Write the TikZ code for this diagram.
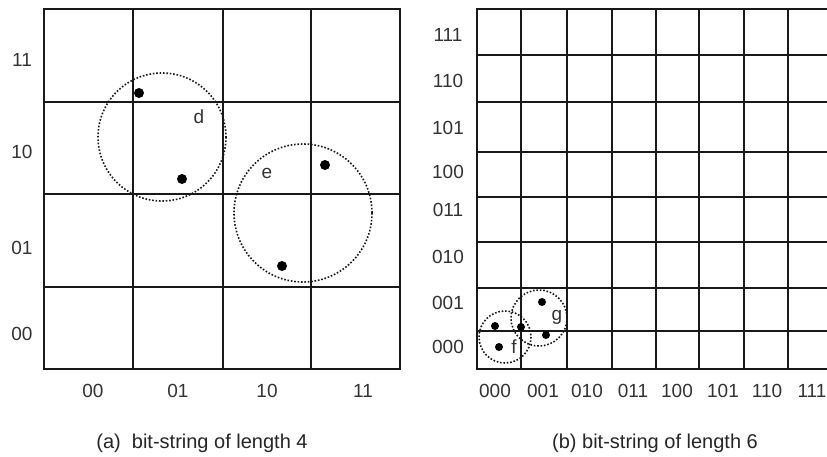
\documentclass[tikz,border=0pt]{standalone}
\usepackage{fontspec}
\setmainfont{Liberation Sans}
\begin{document}
\begin{tikzpicture}[x=1pt,y=-1pt,
  gridline/.style={line width=2pt,black!90,line cap=rect},
  ring/.style={line width=1.6pt,black!90,dash pattern=on 1.6pt off 1.8pt},
  bigdot/.style={circle,fill=black,inner sep=0pt,minimum size=10pt},
  smalldot/.style={circle,fill=black,inner sep=0pt,minimum size=8pt},
  lab/.style={inner sep=0pt,text=black!80,font=\fontsize{19}{21}\selectfont},
  caption/.style={inner sep=0pt,text=black!85,font=\fontsize{20}{22}\selectfont}]
\clip (0,0) rectangle (827,456);
\fill[white] (0,0) rectangle (827,456);
% left grid, 2 bits per axis
\foreach \x in {44,133,223,311,400} \draw[gridline] (\x,9) -- (\x,369);
\foreach \y in {9,102,194,287,369} \draw[gridline] (44,\y) -- (400,\y);
\foreach \t/\y in {11/60,10/152,01/248,00/334}
  \node[lab] (rowa\t) at (22,\y) {\t};
\foreach \t/\x in {00/93,01/178,10/267,11/363}
  \node[lab] (cola\t) at (\x,391) {\t};
% right grid, 3 bits per axis
\foreach \x in {477,521,567,612,656,699,744,788,832} \draw[gridline] (\x,9) -- (\x,369);
\foreach \y in {9,55,102,152,197,242,288,331,369} \draw[gridline] (477,\y) -- (832,\y);
\foreach \t/\y in {111/35,110/81,101/128,100/172,011/210,010/257,001/303,000/347}
  \node[lab] (rowb\t) at (448,\y) {\t};
\foreach \t/\x in {000/495,001/543,010/587,011/633,100/677,101/723,110/767,111/812}
  \node[lab] (colb\t) at (\x,391) {\t};
% neighbourhoods
\draw[ring] (162,137) circle[radius=64];
\draw[ring] (303,213) circle[radius=69];
\draw[ring] (505,337) circle[radius=26];
\draw[ring] (539,318) circle[radius=28];
\node[bigdot] (d1) at (139,93) {};
\node[bigdot] (d2) at (182,179) {};
\node[bigdot] (e1) at (325,165) {};
\node[bigdot] (e2) at (282,266) {};
\node[smalldot] (f1) at (495,326) {};
\node[smalldot] (f2) at (499,347) {};
\node[smalldot] (fg) at (521,327) {};
\node[smalldot] (g1) at (542,302) {};
\node[smalldot] (g2) at (546,335) {};
\node[lab] (dlab) at (199,117) {d};
\node[lab] (elab) at (267,173) {e};
\node[lab] (flab) at (514,347) {f};
\node[lab] (glab) at (557,317) {g};
% captions
\node[caption] (capa) at (202,443) {(a)\ \ bit-string of length 4};
\node[caption] (capb) at (655,443) {(b) bit-string of length 6};
\end{tikzpicture}
\end{document}
